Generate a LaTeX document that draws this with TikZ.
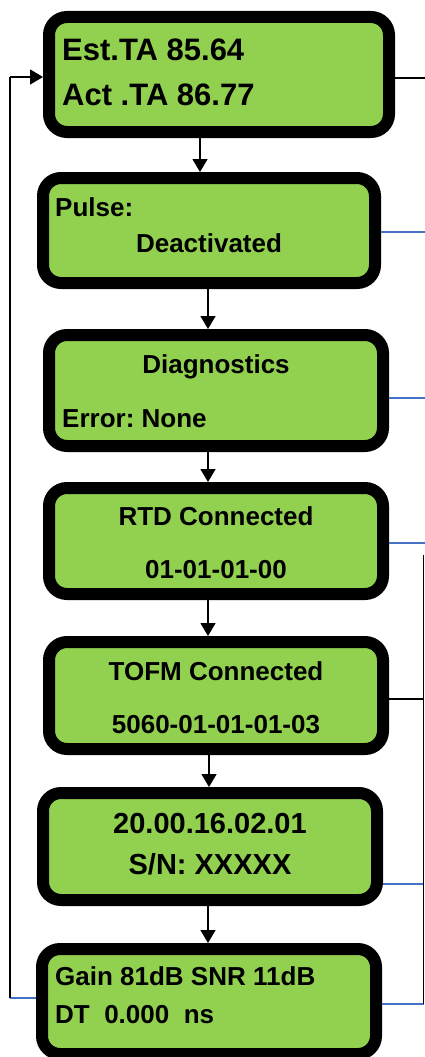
\documentclass[tikz,border=0pt]{standalone}
\usepackage{fontspec}
\setmainfont{Liberation Sans}
\usetikzlibrary{arrows.meta}
\definecolor{lcdgreen}{HTML}{92D050}
\definecolor{linkblue}{HTML}{4472C4}
\frenchspacing
\begin{document}
\begin{tikzpicture}[x=1pt,y=-1pt,
  lcd/.style={draw=black, line width=12pt, fill=lcdgreen, rounded corners=18pt, rectangle, inner sep=0pt, outer sep=6pt},
  txt/.style={inner sep=0pt, font=\bfseries\fontsize{26}{30}\selectfont},
  big/.style={inner sep=0pt, font=\bfseries\fontsize{31}{36}\selectfont},
  mid/.style={inner sep=0pt, font=\bfseries\fontsize{29}{34}\selectfont},
  flow/.style={draw=black, line width=1.5pt, -{Triangle[width=15pt,length=13pt]}},
  plain/.style={draw=black, line width=1.3pt},
  bluelink/.style={draw=linkblue, line width=1.5pt},
]
\useasboundingbox (0,0) rectangle (425,1057);
% boxes
\node[lcd, minimum width=340pt, minimum height=115pt] (b1) at (219,74.5) {};
\node[lcd, minimum width=332pt, minimum height=105pt] (b2) at (209,230.5) {};
\node[lcd, minimum width=334pt, minimum height=111pt] (b3) at (216,390.5) {};
\node[lcd, minimum width=334pt, minimum height=106pt] (b4) at (216,541) {};
\node[lcd, minimum width=334pt, minimum height=107pt] (b5) at (216,695.5) {};
\node[lcd, minimum width=334pt, minimum height=107pt] (b6) at (210,846.5) {};
\node[lcd, minimum width=334pt, minimum height=105pt] (b7) at (209,1001.5) {};
% texts
\node[big, anchor=base west] (t1a) at (62,60) {Est.TA 85.64};
\node[big, anchor=base west] (t1b) at (62,105) {Act .TA 86.77};
\node[txt, anchor=base west] (t2a) at (55,216) {Pulse:};
\node[txt, anchor=base] (t2b) at (209,252) {Deactivated};
\node[txt, anchor=base] (t3a) at (216,373) {Diagnostics};
\node[txt, anchor=base west] (t3b) at (62,427) {Error: None};
\node[txt, anchor=base] (t4a) at (216,525) {RTD Connected};
\node[txt, anchor=base] (t4b) at (216,578) {01-01-01-00};
\node[txt, anchor=base] (t5a) at (216,680) {TOFM Connected};
\node[txt, anchor=base] (t5b) at (216,733) {5060-01-01-01-03};
\node[mid, anchor=base] (t6a) at (210,833) {20.00.16.02.01};
\node[mid, anchor=base] (t6b) at (210,874) {S/N: XXXXX};
\node[txt, anchor=base west] (t7a) at (55,985) {Gain 81dB SNR 11dB};
\node[txt, anchor=base west] (t7b) at (55,1023) {DT\ \ 0.000\ \ ns};
% vertical flow arrows
\draw[flow] ([xshift=-19pt]b1.south) -- ([xshift=-19pt]b1.south |- b2.north);
\draw[flow] ([xshift=-1pt]b2.south) -- ([xshift=-1pt]b2.south |- b3.north);
\draw[flow] ([xshift=-8pt]b3.south) -- ([xshift=-8pt]b3.south |- b4.north);
\draw[flow] ([xshift=-8pt]b4.south) -- ([xshift=-8pt]b4.south |- b5.north);
\draw[flow] ([xshift=-7pt]b5.south) -- ([xshift=-7pt]b5.south |- b6.north);
\draw[flow] ([xshift=-2pt]b6.south) -- ([xshift=-2pt]b6.south |- b7.north);
% loop back on the left
\coordinate (lb) at (10,998);
\coordinate (lt) at (10,77);
\draw[bluelink] (b7.west |- lb) -- (lb);
\draw[plain] (lb) -- (lt);
\draw[flow] (lt) -- (b1.west |- lt);
% stubs on the right
\coordinate (r1) at (425,78);
\coordinate (r2) at (425,232);
\coordinate (r3) at (425,398);
\coordinate (r4) at (425,543);
\coordinate (rt) at (423.5,555);
\coordinate (r5) at (423.5,699);
\coordinate (r6) at (423.5,884);
\coordinate (r7) at (423.5,1004);
\draw[plain] (b1.east |- r1) -- (r1);
\draw[bluelink] (b2.east |- r2) -- (r2);
\draw[bluelink] (b3.east |- r3) -- (r3);
\draw[bluelink] (b4.east |- r4) -- (r4);
\draw[plain] (b5.east |- r5) -- (r5);
\draw[bluelink] (b6.east |- r6) -- (r6);
\draw[bluelink] (b7.east |- r7) -- (r7);
\draw[plain] (rt) -- (r7);
\end{tikzpicture}
\end{document}
